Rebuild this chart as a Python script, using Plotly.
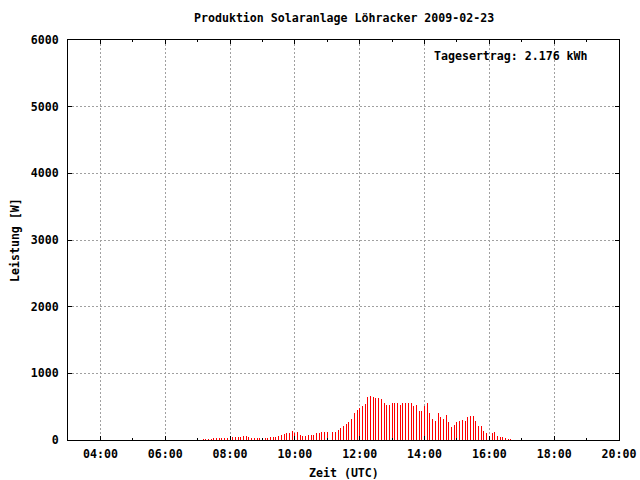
import plotly.graph_objects as go

DATE = "2009-02-23"
TITLE = "Produktion Solaranlage Löhracker 2009-02-23"
YIELD_LABEL = "Tagesertrag: 2.176 kWh"
X_TITLE = "Zeit (UTC)"
Y_TITLE = "Leistung [W]"

times = [
    "07:10", "07:15", "07:20", "07:25", "07:30", "07:35", "07:40", "07:45", "07:50", "07:55",
    "08:00", "08:05", "08:10", "08:15", "08:20", "08:25", "08:30", "08:35", "08:40", "08:45", "08:50", "08:55",
    "09:00", "09:05", "09:10", "09:15", "09:20", "09:25", "09:30", "09:35", "09:40", "09:45", "09:50", "09:55",
    "10:00", "10:05", "10:10", "10:15", "10:20", "10:25", "10:30", "10:35", "10:40", "10:45", "10:50", "10:55",
    "11:00", "11:05", "11:10", "11:15", "11:20", "11:25", "11:30", "11:35", "11:40", "11:45", "11:50", "11:55",
    "12:00", "12:05", "12:10", "12:15", "12:20", "12:25", "12:30", "12:35", "12:40", "12:45", "12:50", "12:55",
    "13:00", "13:05", "13:10", "13:15", "13:20", "13:25", "13:30", "13:35", "13:40", "13:45", "13:50", "13:55",
    "14:00", "14:05", "14:10", "14:15", "14:20", "14:25", "14:30", "14:35", "14:40", "14:45", "14:50", "14:55",
    "15:00", "15:05", "15:10", "15:15", "15:20", "15:25", "15:30", "15:35", "15:40", "15:45", "15:50", "15:55",
    "16:00", "16:05", "16:10", "16:15", "16:20", "16:25", "16:30", "16:35", "16:40",
]

power_w = [
    15, 15, 15, 15, 30, 30, 30, 30, 30, 30,
    35, 45, 45, 45, 45, 60, 60, 45, 30, 30,
    30, 30, 30, 30, 30, 40, 45, 45, 55, 70,
    85, 100, 110, 135, 105, 120, 75, 60, 60, 75,
    75, 80, 105, 110, 120, 120, 120, 105, 120, 120,
    155, 185, 210, 235, 270, 320, 400, 455, 480, 510,
    545, 645, 660, 645, 635, 630, 615, 555, 525, 525,
    555, 555, 555, 525, 555, 555, 555, 555, 510, 525,
    435, 435, 510, 555, 405, 315, 285, 405, 345, 315,
    375, 270, 195, 225, 270, 285, 300, 285, 345, 360,
    360, 285, 210, 210, 135, 105, 65, 110, 125, 65,
    50, 50, 30, 15, 15,
]

x_vals = [f"{DATE} {t}" for t in times]

FONT = dict(family="DejaVu Sans Mono", size=11.6, color="black", weight="bold")

fig = go.Figure()
fig.add_trace(go.Bar(
    x=x_vals, y=power_w, width=110000,
    marker=dict(color="#ff0000", line=dict(width=0)),
    showlegend=False, hoverinfo="skip",
))

W, H = 640, 480
ml, mr, mt, mb = 68, 21, 40, 40
pw, ph = W - ml - mr, H - mt - mb

def px_x(p):
    return (p - ml) / pw

def px_y(p):
    return (H - mb - p) / ph

fig.update_layout(
    width=W, height=H,
    margin=dict(l=ml, r=mr, t=mt, b=mb, pad=0, autoexpand=False),
    paper_bgcolor="white", plot_bgcolor="white",
    font=FONT,
    bargap=0,
    xaxis=dict(
        type="date",
        range=[f"{DATE} 03:00", f"{DATE} 20:00"],
        tick0=f"{DATE} 04:00", dtick=2 * 3600 * 1000,
        tickformat="%H:%M",
        showgrid=True, gridcolor="#a0a0a0", gridwidth=1, griddash="2px,2px",
        showline=True, linecolor="black", linewidth=1, mirror="ticks",
        ticks="inside", ticklen=4, tickcolor="black", tickwidth=1,
        minor=dict(dtick=3600 * 1000, ticks="inside", ticklen=2, tickcolor="black", showgrid=False),
        tickfont=FONT, ticklabelstandoff=3, automargin=False,
        zeroline=False, fixedrange=True,
    ),
    yaxis=dict(
        range=[0, 6000], dtick=1000, tick0=0, tickformat="d",
        showgrid=True, gridcolor="#a0a0a0", gridwidth=1, griddash="2px,2px",
        showline=True, linecolor="black", linewidth=1, mirror="ticks",
        ticks="inside", ticklen=4, tickcolor="black", tickwidth=1,
        tickfont=FONT, ticklabelstandoff=6, automargin=False,
        zeroline=False, fixedrange=True,
    ),
    annotations=[
        dict(text=TITLE, xref="paper", yref="paper", x=px_x(343.5), y=px_y(18),
             xanchor="center", yanchor="middle", showarrow=False, font=FONT),
        dict(text=YIELD_LABEL, xref="paper", yref="paper", x=px_x(432), y=px_y(56),
             xanchor="left", yanchor="middle", showarrow=False, font=FONT),
        dict(text=X_TITLE, xref="paper", yref="paper", x=px_x(343.5), y=px_y(473),
             xanchor="center", yanchor="middle", showarrow=False, font=FONT),
        dict(text=Y_TITLE, xref="paper", yref="paper", x=px_x(15), y=px_y(240),
             xanchor="center", yanchor="middle", showarrow=False, font=FONT, textangle=-90),
    ],
)

fig.write_html(
    "out.html",
    config={"displayModeBar": False, "staticPlot": True},
    post_script="document.body.style.margin='0';document.body.style.overflow='hidden';",
)
